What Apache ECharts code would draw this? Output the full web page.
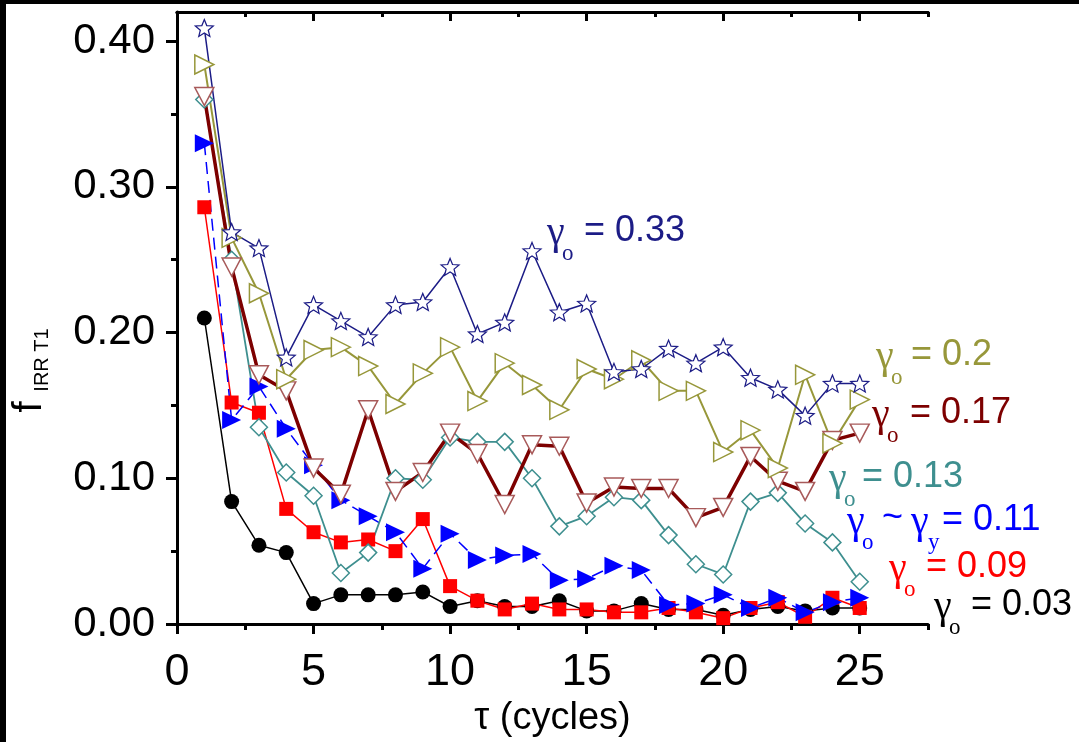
<!DOCTYPE html>
<html>
<head>
<meta charset="utf-8">
<script src="https://cdn.jsdelivr.net/npm/echarts@6/dist/echarts.min.js"></script>
<style>
  html, body { margin: 0; padding: 0; background: #fff; }
  #chart { width: 1079px; height: 742px; }
</style>
</head>
<body>
<div id="chart"></div>
<script>
// Cycle index
const cycles = [1,2,3,4,5,6,7,8,9,10,11,12,13,14,15,16,17,18,19,20,21,22,23,24,25];

// f_IRR T1 per cycle for each gamma_o
const g003 = [0.210,0.084,0.054,0.049,0.014,0.020,0.020,0.020,0.022,0.012,0.016,0.012,0.012,0.016,0.009,0.009,0.014,0.010,0.010,0.006,0.010,0.012,0.009,0.011,0.011];
const g009 = [0.286,0.152,0.145,0.079,0.063,0.056,0.058,0.050,0.072,0.026,0.016,0.010,0.014,0.010,0.010,0.008,0.008,0.011,0.008,0.004,0.011,0.015,0.005,0.018,0.011];
const g011 = [0.330,0.140,0.163,0.134,0.109,0.085,0.074,0.063,0.038,0.062,0.044,0.047,0.048,0.030,0.031,0.040,0.037,0.013,0.014,0.020,0.011,0.018,0.008,0.015,0.018];
const g013 = [0.360,0.250,0.135,0.104,0.088,0.035,0.049,0.100,0.099,0.128,0.125,0.125,0.100,0.067,0.074,0.087,0.085,0.061,0.041,0.034,0.084,0.090,0.069,0.056,0.029];
const g017 = [0.362,0.245,0.171,0.160,0.107,0.089,0.147,0.091,0.104,0.131,0.117,0.082,0.123,0.122,0.083,0.094,0.093,0.093,0.073,0.080,0.115,0.098,0.091,0.126,0.131];
const g020 = [0.384,0.265,0.227,0.168,0.188,0.190,0.177,0.151,0.172,0.190,0.153,0.179,0.164,0.147,0.175,0.168,0.181,0.160,0.160,0.118,0.133,0.107,0.171,0.124,0.154];
const g033 = [0.409,0.269,0.258,0.183,0.219,0.208,0.197,0.219,0.221,0.245,0.199,0.207,0.256,0.214,0.220,0.173,0.175,0.189,0.179,0.190,0.169,0.161,0.143,0.165,0.165];

// Tick positions and labels
const xMajorTicks = [0,5,10,15,20,25];
const xMinorTicks = [2.5,7.5,12.5,17.5,22.5,27.5];
const yMajorTicks = [0,0.1,0.2,0.3,0.4];
const yMinorTicks = [0.05,0.15,0.25,0.35];

const xTitle = 'τ (cycles)';
const yTitleMain = 'f';
const yTitleSub = 'IRR T1';

const pairs = vals => cycles.map((c, i) => [c, vals[i]]);

const STAR = 'path://M50 0 L62.93 32.2 L97.55 34.55 L70.92 56.8 L79.39 90.45 L50 72 L20.61 90.45 L29.08 56.8 L2.45 34.55 L37.07 32.2 Z';

const SANS = 'Liberation Sans, Arial, sans-serif';
const NARROW = 'Liberation Sans Narrow, Liberation Sans, Arial, sans-serif';
const SERIF = 'Liberation Serif, Times New Roman, serif';

const C = {
  navy: '#1c1c86',
  olive: '#97973a',
  maroon: '#7d0000',
  maroonMk: '#a85a5a',
  teal: '#3e8f8f',
  blue: '#0000ff',
  red: '#ff0000',
  black: '#000000'
};

// Curve annotations: gamma symbol, subscript, then the value text
function gammaLabel(x, yc, color, valueText, eqX) {
  return {
    type: 'group',
    z: 50,
    children: [
      { type: 'text', x: x, y: yc + 2, style: { text: 'γ', font: '40px ' + SERIF, fill: color, align: 'left', verticalAlign: 'middle' } },
      { type: 'text', x: x + 15, y: yc + 23, style: { text: 'o', font: '23px ' + SERIF, fill: color, align: 'left', verticalAlign: 'middle' } },
      { type: 'text', x: eqX, y: yc, style: { text: valueText, font: '36px ' + SANS, fill: color, align: 'left', verticalAlign: 'middle' } }
    ]
  };
}

const graphics = [
  // dark frame edges
  { type: 'rect', shape: { x: 0, y: 0, width: 1079, height: 4 }, style: { fill: '#000' }, z: 60 },
  { type: 'rect', shape: { x: 0, y: 0, width: 6, height: 742 }, style: { fill: '#000' }, z: 60 },
  // y-axis title
  { type: 'text', x: 30, y: 407, rotation: Math.PI / 2, style: { text: yTitleMain, font: '40px ' + SANS, fill: '#000', align: 'center', verticalAlign: 'middle' } },
  { type: 'text', x: 42, y: 360, rotation: Math.PI / 2, style: { text: yTitleSub, font: '20px ' + SANS, fill: '#000', align: 'center', verticalAlign: 'middle' } },
  // curve annotations
  gammaLabel(547, 231, C.navy, '= 0.33', 584),
  gammaLabel(876, 355, C.olive, '= 0.2', 911),
  gammaLabel(872, 413, C.maroon, '= 0.17', 910),
  gammaLabel(829, 477, C.teal, '= 0.13', 862),
  gammaLabel(889, 567, C.red, '= 0.09', 926),
  gammaLabel(934, 605, C.black, '= 0.03', 971),
  {
    type: 'group', z: 50,
    children: [
      { type: 'text', x: 847, y: 522, style: { text: 'γ', font: '40px ' + SERIF, fill: C.blue, verticalAlign: 'middle' } },
      { type: 'text', x: 862, y: 543, style: { text: 'o', font: '23px ' + SERIF, fill: C.blue, verticalAlign: 'middle' } },
      { type: 'text', x: 882, y: 518, style: { text: '~', font: '36px ' + SANS, fill: C.blue, verticalAlign: 'middle' } },
      { type: 'text', x: 911, y: 522, style: { text: 'γ', font: '40px ' + SERIF, fill: C.blue, verticalAlign: 'middle' } },
      { type: 'text', x: 928, y: 543, style: { text: 'y', font: '23px ' + SERIF, fill: C.blue, verticalAlign: 'middle' } },
      { type: 'text', x: 942, y: 520, style: { text: '= 0.11', font: '36px ' + SANS, fill: C.blue, verticalAlign: 'middle' } }
    ]
  }
];

function xAxisCfg(pos, ticks, len, inside, labels) {
  return {
    type: 'value', position: pos, min: 0, max: 27.5, interval: 2.5,
    axisLine: { show: !!labels || pos === 'top', onZero: false, lineStyle: { color: '#000', width: 3 } },
    axisTick: { show: true, inside: inside, length: len, customValues: ticks, lineStyle: { color: '#000', width: 3 } },
    axisLabel: labels ? {
      show: true, customValues: labels, margin: 26, color: '#000',
      fontFamily: NARROW, fontSize: 45, formatter: v => String(v)
    } : { show: false },
    splitLine: { show: false },
    name: labels ? xTitle : '',
    nameLocation: 'middle', nameGap: 72,
    nameTextStyle: { color: '#000', fontFamily: NARROW, fontSize: 38 }
  };
}

function yAxisCfg(ticks, len, labels) {
  return {
    type: 'value', position: 'left', min: 0, max: 0.42,
    axisLine: { show: !!labels, onZero: false, lineStyle: { color: '#000', width: 3 } },
    axisTick: { show: true, length: len, customValues: ticks, lineStyle: { color: '#000', width: 3 } },
    axisLabel: labels ? {
      show: true, customValues: labels, margin: 22, color: '#000',
      fontFamily: SANS, fontSize: 42, formatter: v => v.toFixed(2)
    } : { show: false },
    splitLine: { show: false }
  };
}

function lineSeries(name, vals, opt) {
  return Object.assign({
    name: name, type: 'line', data: pairs(vals),
    xAxisIndex: 0, yAxisIndex: 0,
    animation: false, showAllSymbol: true,
    emphasis: { disabled: true }
  }, opt);
}

const option = {
  backgroundColor: '#ffffff',
  animation: false,
  grid: { left: 177, right: 151, top: 12, bottom: 118, containLabel: false, outerBoundsMode: 'none' },
  xAxis: [
    xAxisCfg('bottom', xMajorTicks, 10, false, xMajorTicks),
    xAxisCfg('bottom', xMinorTicks, 6, false, null),
    xAxisCfg('top', xMajorTicks, 9, true, null),
    xAxisCfg('top', xMinorTicks, 5, true, null)
  ],
  yAxis: [
    yAxisCfg(yMajorTicks, 11, yMajorTicks),
    yAxisCfg(yMinorTicks, 6, null)
  ],
  series: [
    lineSeries('γo = 0.03', g003, {
      symbol: 'circle', symbolSize: 15,
      lineStyle: { color: C.black, width: 1.5 },
      itemStyle: { color: C.black }
    }),
    lineSeries('γo = 0.09', g009, {
      symbol: 'rect', symbolSize: 14,
      lineStyle: { color: C.red, width: 1.5 },
      itemStyle: { color: C.red }
    }),
    lineSeries('γo ~ γy = 0.11', g011, {
      symbol: 'triangle', symbolSize: [18, 19], symbolRotate: -90,
      lineStyle: { color: C.blue, width: 1.5, type: [12, 7] },
      itemStyle: { color: C.blue }
    }),
    lineSeries('γo = 0.13', g013, {
      symbol: 'diamond', symbolSize: 17,
      lineStyle: { color: C.teal, width: 1.8 },
      itemStyle: { color: '#fff', borderColor: C.teal, borderWidth: 1.5 }
    }),
    lineSeries('γo = 0.17', g017, {
      symbol: 'triangle', symbolSize: [19, 18], symbolRotate: 180,
      lineStyle: { color: C.maroon, width: 3.5 },
      itemStyle: { color: '#fff', borderColor: C.maroonMk, borderWidth: 1.5 }
    }),
    lineSeries('γo = 0.2', g020, {
      symbol: 'triangle', symbolSize: [19, 19], symbolRotate: -90,
      lineStyle: { color: C.olive, width: 2 },
      itemStyle: { color: '#fff', borderColor: C.olive, borderWidth: 1.5 }
    }),
    lineSeries('γo = 0.33', g033, {
      symbol: STAR, symbolSize: [18, 17],
      lineStyle: { color: C.navy, width: 1.5 },
      itemStyle: { color: '#fff', borderColor: C.navy, borderWidth: 1.2 }
    })
  ],
  graphic: graphics
};

const chart = echarts.init(document.getElementById('chart'), null, { renderer: 'canvas' });
chart.setOption(option);
</script>
</body>
</html>
